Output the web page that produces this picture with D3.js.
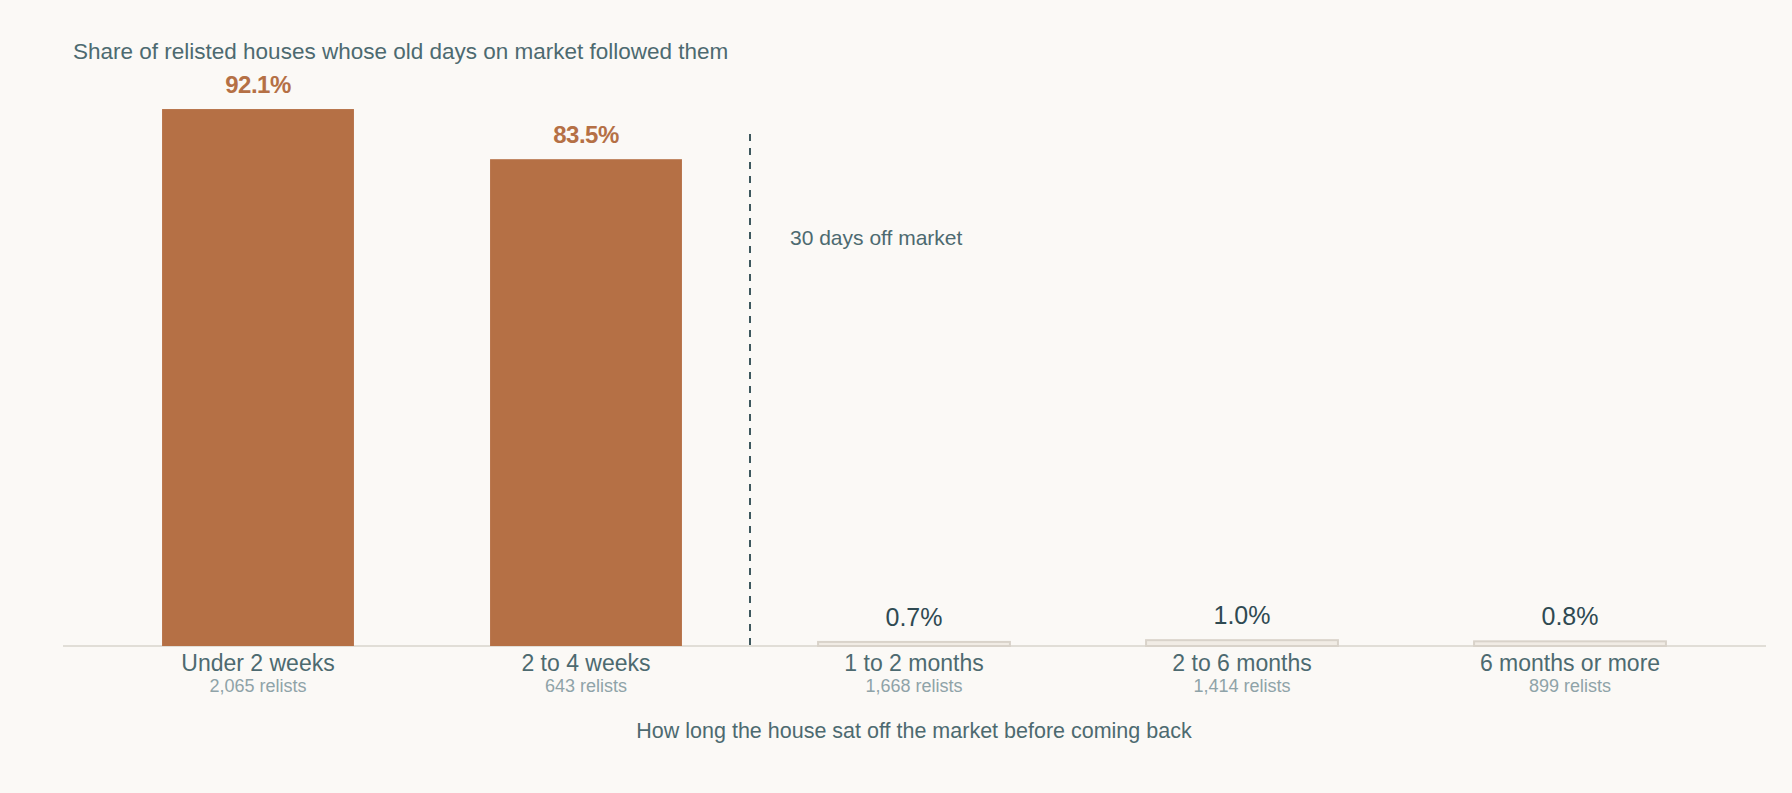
<!DOCTYPE html>
<html><head><meta charset="utf-8">
<script src="https://cdn.jsdelivr.net/npm/d3@7"></script>
<style>html,body{margin:0;background:#fbf9f6;}svg{display:block;font-family:"Liberation Sans",Arial,sans-serif;}</style>
</head><body><svg id="c" width="1792" height="793"></svg>
<script>
const categories = ["Under 2 weeks","2 to 4 weeks","1 to 2 months","2 to 6 months","6 months or more"];
const shares = [92.1, 83.5, 0.7, 1.0, 0.8];
const relists = ["2,065","643","1,668","1,414","899"];
const highlighted = [true, true, false, false, false];

const svg = d3.select("#c");
const baseY = 646, topY = 63;
const x = d3.scaleBand().domain(categories).range([94, 1734]).paddingInner(0.415).paddingOuter(0.2075);
const y = d3.scaleLinear().domain([0, 100]).range([baseY, topY]);

svg.append("line").attr("x1",63).attr("x2",1766).attr("y1",baseY).attr("y2",baseY)
  .attr("stroke","#d9d4cc").attr("stroke-width",1.5);

categories.forEach((c,i)=>{
  const hx = highlighted[i];
  svg.append("rect").attr("x",x(c)).attr("width",x.bandwidth())
    .attr("y",y(shares[i])).attr("height",baseY-y(shares[i]))
    .attr("fill",hx?"#b57045":"#f1ece5").attr("stroke",hx?"none":"#d9d3ca").attr("stroke-width",hx?0:2);
  const cx = x(c)+x.bandwidth()/2;
  svg.append("text").attr("x",cx).attr("y",y(shares[i])-16).attr("text-anchor","middle")
    .attr("font-size",hx?24:25).attr("font-weight",hx?"bold":"normal").attr("letter-spacing",hx?-0.5:0)
    .attr("fill",hx?"#b57045":"#2f4a52").text(shares[i].toFixed(1)+"%");
  svg.append("text").attr("x",cx).attr("y",671).attr("text-anchor","middle").attr("font-size",23)
    .attr("fill","#4d6a70").text(c);
  svg.append("text").attr("x",cx).attr("y",692).attr("text-anchor","middle").attr("font-size",18)
    .attr("fill","#8fa3a8").text(relists[i]+" relists");
});

const dx = (x(categories[1])+x.bandwidth()+x(categories[2]))/2;
svg.append("line").attr("x1",dx).attr("x2",dx).attr("y1",134).attr("y2",baseY)
  .attr("stroke","#3e585e").attr("stroke-width",2).attr("stroke-dasharray","7,7");
svg.append("text").attr("x",790).attr("y",245).attr("font-size",21).attr("fill","#4d6a70").text("30 days off market");

svg.append("text").attr("x",73).attr("y",59).attr("font-size",22.5).attr("fill","#4d6a70")
  .text("Share of relisted houses whose old days on market followed them");
svg.append("text").attr("x",914).attr("y",738).attr("text-anchor","middle").attr("font-size",21.5).attr("fill","#4d6a70")
  .text("How long the house sat off the market before coming back");
</script></body></html>
